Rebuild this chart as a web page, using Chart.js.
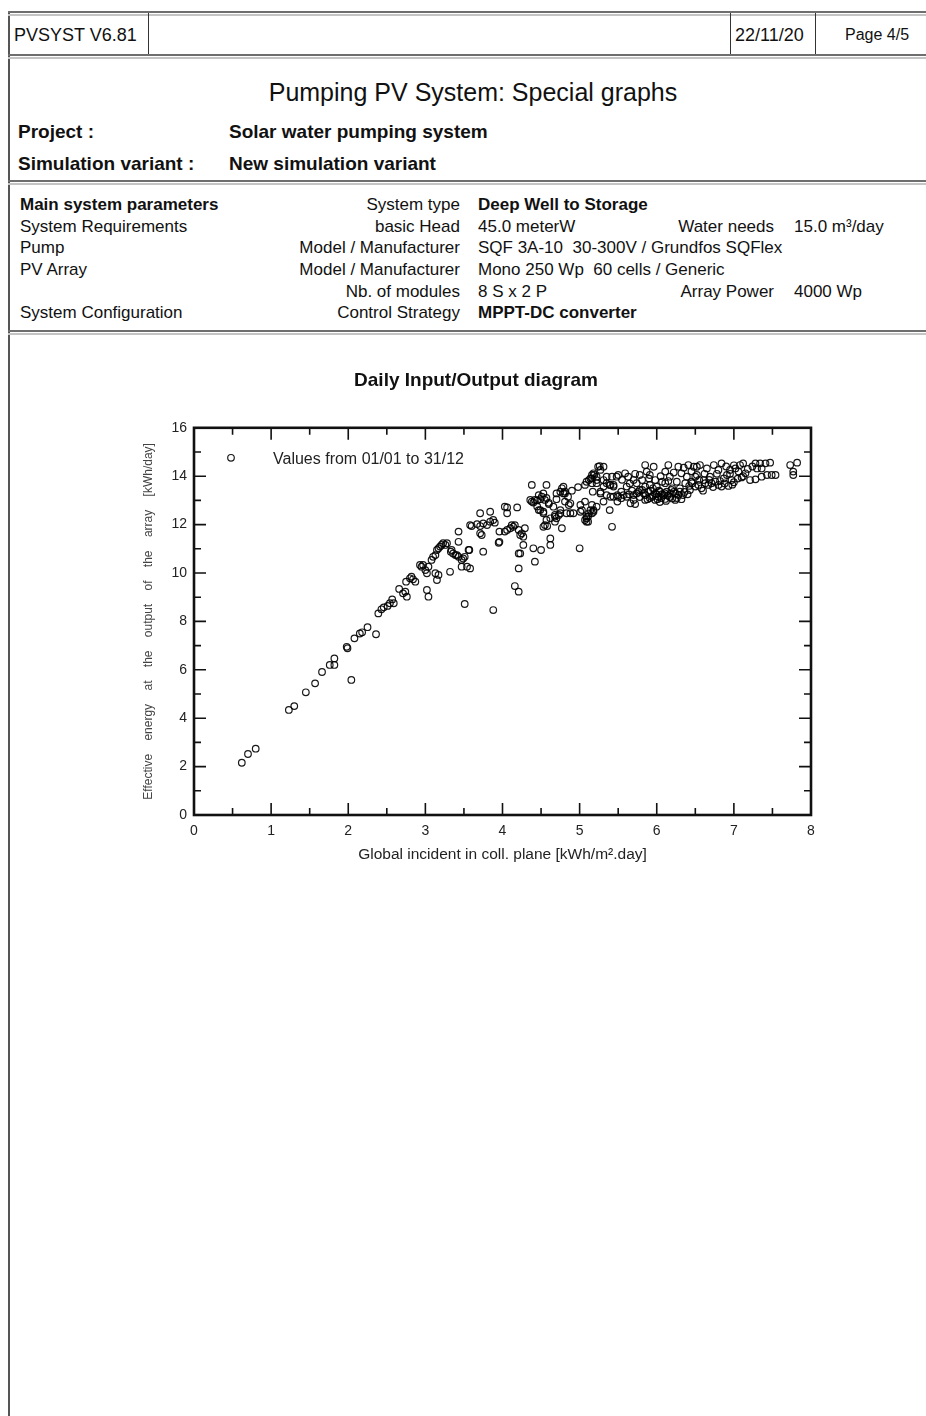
<!DOCTYPE html>
<html>
<head>
<meta charset="utf-8">
<title>Pumping PV System: Special graphs</title>
<script src="https://cdn.jsdelivr.net/npm/chart.js@4.4.1/dist/chart.umd.min.js"></script>
<style>
    html, body { margin: 0; padding: 0; background: #fff; }
    body { width: 926px; height: 1416px; position: relative; overflow: hidden; font-family: "Liberation Sans", Arial, sans-serif; color: #111; }
    .frame { position: absolute; left: 8px; top: 12px; width: 940px; height: 1420px; border-left: 2px solid #555; }
    .hline { position: absolute; left: 8px; width: 940px; height: 1px; border-top: 2px solid #6e6e6e; border-bottom: 2px solid #c4c4c4; }
    .vline { position: absolute; top: 13px; height: 42px; width: 0; border-left: 1px solid #333; }
    .t { position: absolute; white-space: pre; line-height: 1; }
    .b { font-weight: bold; }
    .hd { font-size: 18px; }
    .p { font-size: 17px; }
    .pj { font-size: 19px; }
    .r { text-align: right; }
    #chartBox { position: absolute; left: 100px; top: 355px; width: 752px; height: 525px; }
</style>
</head>
<body>
<div class="frame"></div>

<!-- header row -->
<div class="hline" style="top:11px"></div>
<div class="vline" style="left:148px"></div>
<div class="vline" style="left:730px"></div>
<div class="vline" style="left:815px"></div>
<div class="t hd" style="left:14px; top:26px">PVSYST V6.81</div>
<div class="t hd" style="left:735px; top:26px">22/11/20</div>
<div class="t" style="left:845px; top:27px; font-size:16px">Page 4/5</div>
<div class="hline" style="top:54px"></div>

<!-- title block -->
<div class="t" style="left:0; width:946px; text-align:center; top:80px; font-size:25px">Pumping PV System: Special graphs</div>
<div class="t b pj" style="left:18px; top:122px">Project :</div>
<div class="t b pj" style="left:229px; top:122px">Solar water pumping system</div>
<div class="t b pj" style="left:18px; top:154px">Simulation variant :</div>
<div class="t b pj" style="left:229px; top:154px">New simulation variant</div>
<div class="hline" style="top:180px"></div>

<!-- main system parameters -->
<div class="t p b" style="left:20px; top:196px">Main system parameters</div>
<div class="t p r" style="right:466px; top:196px">System type</div>
<div class="t p b" style="left:478px; top:196px">Deep Well to Storage</div>

<div class="t p" style="left:20px; top:218px">System Requirements</div>
<div class="t p r" style="right:466px; top:218px">basic Head</div>
<div class="t p" style="left:478px; top:218px">45.0 meterW</div>
<div class="t p r" style="right:152px; top:218px">Water needs</div>
<div class="t p" style="left:794px; top:218px">15.0 m³/day</div>

<div class="t p" style="left:20px; top:239px">Pump</div>
<div class="t p r" style="right:466px; top:239px">Model / Manufacturer</div>
<div class="t p" style="left:478px; top:239px">SQF 3A-10  30-300V / Grundfos SQFlex</div>

<div class="t p" style="left:20px; top:261px">PV Array</div>
<div class="t p r" style="right:466px; top:261px">Model / Manufacturer</div>
<div class="t p" style="left:478px; top:261px">Mono 250 Wp  60 cells / Generic</div>

<div class="t p r" style="right:466px; top:283px">Nb. of modules</div>
<div class="t p" style="left:478px; top:283px">8 S x 2 P</div>
<div class="t p r" style="right:152px; top:283px">Array Power</div>
<div class="t p" style="left:794px; top:283px">4000 Wp</div>

<div class="t p" style="left:20px; top:304px">System Configuration</div>
<div class="t p r" style="right:466px; top:304px">Control Strategy</div>
<div class="t p b" style="left:478px; top:304px">MPPT-DC converter</div>
<div class="hline" style="top:330px"></div>

<div id="chartBox"><canvas id="io-diagram"></canvas></div>

<script>
(function () {
    "use strict";

    // Daily values: global incident (kWh/m2.day) / array output (kWh/day)
    var globalInc = [
        0.62, 0.70, 0.80, 1.23, 1.30, 1.45, 1.57, 1.66, 1.76, 1.82, 1.82, 1.98, 1.99, 2.04, 2.08, 2.15, 2.18, 2.25, 2.36, 2.39,
        2.43, 2.46, 2.51, 2.54, 2.57, 2.59, 2.66, 2.76, 2.75, 2.80, 2.84, 2.87, 2.93, 2.71, 2.74, 2.82, 2.95, 3.00, 3.02, 3.04,
        3.08, 3.10, 3.13, 3.15, 3.17, 3.19, 3.21, 3.23, 3.13, 3.15, 3.17, 3.02, 3.04, 3.32, 3.34, 3.36, 3.41, 3.43, 3.47, 3.49,
        3.51, 3.47, 3.58, 3.56, 3.43, 3.43, 3.71, 3.75, 3.96, 3.96, 3.88, 3.51, 2.97, 3.26, 3.28, 3.33, 3.39, 3.54, 3.57, 3.58,
        3.60, 3.67, 3.71, 3.75, 3.80, 3.84, 3.88, 3.90, 3.71, 3.84, 3.73, 3.95, 4.03, 4.06, 4.10, 4.14, 4.16, 4.19, 4.21, 4.25,
        4.27, 4.29, 4.27, 4.21, 4.40, 4.42, 4.50, 4.53, 4.58, 4.62, 4.62, 4.62, 4.68, 4.70, 4.73, 4.75, 4.77, 4.81, 4.83, 4.88,
        4.38, 4.57, 4.36, 4.38, 4.42, 4.47, 4.51, 4.53, 4.55, 4.47, 4.53, 4.66, 4.75, 4.77, 4.81, 4.79, 5.00, 5.07, 5.09, 5.12,
        5.14, 5.16, 5.07, 5.12, 5.16, 5.19, 5.22, 5.24, 5.17, 5.27, 5.31, 5.39, 5.42, 5.39, 5.48, 5.50, 4.16, 4.21, 4.21, 4.23,
        4.40, 4.45, 4.49, 4.57, 4.60, 4.70, 4.81, 4.79, 5.07, 5.09, 5.14, 5.16, 5.18, 5.22, 5.27, 5.09, 5.11, 5.16, 5.18, 5.22,
        5.01, 5.03, 4.86, 4.92, 4.88, 4.68, 4.75, 4.49, 4.53, 4.55, 4.57, 4.68, 4.03, 4.06, 4.12, 4.23, 4.06, 5.26, 5.22, 5.16,
        5.31, 5.35, 5.40, 5.44, 5.27, 5.35, 5.44, 5.49, 5.57, 5.66, 5.18, 5.11, 5.09, 5.01, 5.50, 5.59, 5.63, 5.70, 5.74, 5.78,
        5.81, 5.85, 5.87, 5.91, 5.96, 5.98, 6.00, 6.04, 6.07, 6.11, 6.15, 6.17, 6.20, 6.24, 6.28, 6.32, 6.37, 6.41, 6.43, 6.50,
        6.52, 5.81, 5.85, 5.89, 5.94, 5.98, 6.02, 6.09, 6.13, 5.74, 5.70, 5.91, 6.11, 6.26, 6.30, 6.34, 6.39, 6.46, 5.31, 5.54,
        5.61, 6.48, 6.52, 6.56, 6.61, 6.65, 6.69, 6.74, 6.76, 6.80, 6.84, 6.87, 6.91, 6.95, 6.97, 7.02, 7.06, 7.08, 7.12, 7.15,
        7.28, 7.34, 7.41, 7.47, 7.30, 7.36, 7.21, 7.28, 7.36, 7.43, 7.49, 7.54, 7.73, 7.77, 7.82, 6.45, 6.50, 6.54, 6.58, 6.63,
        6.67, 6.71, 6.80, 6.84, 5.91, 5.98, 6.04, 6.11, 6.17, 6.24, 6.07, 6.19, 6.28, 5.85, 5.78, 5.72, 5.42, 5.35, 5.44, 5.31,
        5.40, 5.49, 5.54, 5.61, 5.70, 5.78, 5.85, 6.60, 6.73, 6.88, 6.93, 7.00, 7.05, 7.10, 6.95, 7.18, 7.24, 6.62, 6.78, 6.90,
        7.00, 7.77, 5.55, 5.65, 5.72, 5.90, 5.95, 6.05, 6.15, 6.22, 6.35, 6.45, 5.95, 6.00, 6.03, 6.06, 6.10, 6.14, 6.18, 6.22,
        6.26, 6.32, 6.36, 6.40, 5.92, 5.88, 5.83, 5.76, 5.68, 5.64, 6.01, 6.12, 6.20, 6.30, 6.42, 6.55, 6.68, 6.82, 6.98, 7.12,
        4.45, 4.60, 4.70, 4.85, 4.90, 4.98
    ];
    var effEnergy = [
        2.16, 2.52, 2.74, 4.34, 4.50, 5.07, 5.44, 5.91, 6.20, 6.20, 6.47, 6.95, 6.89, 5.58, 7.30, 7.50, 7.55, 7.76, 7.47, 8.33,
        8.50, 8.58, 8.64, 8.75, 8.91, 8.75, 9.34, 9.02, 9.64, 9.78, 9.74, 9.64, 10.33, 9.16, 9.23, 9.85, 10.26, 10.12, 9.99, 10.26,
        10.54, 10.67, 10.74, 10.95, 11.02, 11.09, 11.16, 11.23, 9.99, 9.71, 9.92, 9.30, 9.02, 10.05, 10.95, 10.81, 10.74, 10.67, 10.54, 10.60,
        10.67, 10.26, 10.19, 10.95, 11.29, 11.71, 11.64, 10.88, 11.29, 11.71, 8.47, 8.72, 10.33, 11.16, 11.23, 10.88, 10.74, 10.26, 10.95, 11.98,
        11.94, 12.02, 11.94, 12.05, 11.98, 12.12, 12.19, 12.08, 12.47, 12.53, 11.57, 11.25, 11.71, 12.71, 11.85, 11.91, 11.98, 12.71, 11.78, 11.64,
        11.50, 11.85, 11.16, 10.81, 11.02, 10.47, 10.95, 11.91, 11.94, 12.26, 11.43, 11.16, 12.40, 12.26, 12.40, 12.60, 11.85, 12.95, 12.47, 12.47,
        13.64, 13.64, 13.02, 12.95, 13.02, 13.22, 13.15, 13.29, 13.02, 12.60, 12.53, 12.74, 13.36, 13.50, 13.36, 13.29, 11.02, 12.19, 12.33, 12.46,
        12.60, 12.81, 12.95, 13.84, 13.91, 14.05, 13.71, 14.39, 13.36, 13.36, 13.57, 13.64, 11.91, 12.60, 13.98, 13.15, 9.46, 9.23, 10.19, 10.81,
        12.91, 13.00, 13.05, 13.10, 12.90, 13.29, 13.29, 13.57, 13.64, 13.77, 13.91, 14.05, 14.12, 13.84, 14.26, 12.26, 12.12, 12.47, 12.60, 12.74,
        12.81, 12.60, 12.81, 12.47, 12.88, 12.33, 12.47, 12.60, 12.47, 11.98, 12.19, 12.12, 12.74, 12.47, 11.98, 11.57, 11.78, 14.42, 13.98, 13.71,
        13.84, 13.98, 13.64, 13.57, 13.29, 13.22, 13.15, 12.95, 13.22, 12.88, 12.53, 12.33, 12.12, 12.53, 14.05, 14.12, 13.98, 13.84, 13.71, 14.05,
        13.84, 14.46, 14.19, 14.05, 14.39, 13.84, 13.57, 13.36, 13.77, 14.19, 14.46, 13.98, 13.50, 13.29, 14.39, 14.12, 13.71, 14.46, 13.43, 13.98,
        14.39, 13.43, 13.22, 13.36, 13.15, 13.29, 13.15, 13.22, 13.36, 13.29, 13.02, 13.64, 13.71, 13.77, 13.36, 13.22, 13.98, 13.71, 14.39, 13.36,
        13.57, 14.39, 14.05, 14.46, 13.84, 14.32, 13.98, 14.46, 13.77, 14.26, 14.53, 13.91, 14.05, 14.26, 13.84, 14.32, 14.19, 14.46, 14.53, 14.12,
        14.53, 14.53, 14.53, 14.56, 14.32, 14.32, 13.84, 13.87, 13.98, 14.05, 14.05, 14.05, 14.46, 14.19, 14.56, 13.77, 13.57, 13.64, 13.50, 13.71,
        13.64, 13.71, 13.64, 13.57, 13.10, 13.02, 12.93, 13.06, 13.14, 13.02, 13.26, 13.43, 13.22, 13.02, 13.14, 12.85, 13.98, 13.71, 13.64, 12.95,
        13.15, 13.22, 13.09, 13.15, 13.22, 13.43, 13.57, 13.40, 13.55, 13.70, 13.60, 13.75, 13.90, 13.95, 14.10, 14.30, 14.40, 14.10, 14.10, 14.40,
        14.45, 14.05, 13.85, 13.70, 14.10, 13.90, 13.50, 14.00, 13.80, 14.15, 14.35, 14.20, 13.20, 13.25, 13.40, 13.10, 13.30, 13.20, 13.28, 13.35,
        13.10, 13.05, 13.35, 13.25, 13.40, 13.05, 13.30, 13.35, 13.40, 13.25, 13.05, 12.98, 13.08, 13.50, 13.60, 13.85, 13.85, 13.80, 13.65, 14.00,
        12.75, 12.85, 13.05, 13.15, 13.40, 13.55
    ];
    var seriesLabel = "Values from 01/01 to 31/12";

    // axis ticks (labelled) and the small ones in between
    var xTicks = [0, 1, 2, 3, 4, 5, 6, 7, 8];
    var xMinor = [0.5, 1.5, 2.5, 3.5, 4.5, 5.5, 6.5, 7.5];
    var yTicks = [0, 2, 4, 6, 8, 10, 12, 14, 16];
    var yMinor = [1, 3, 5, 7, 9, 11, 13, 15];

    var points = globalInc.map(function (x, i) {
        return {x: x, y: effEnergy[i]};
    });

    Chart.defaults.font.family = '"Liberation Sans", Arial, sans-serif';
    Chart.defaults.color = "#222";

    // PVsyst style frame with ticks pointing inwards on all 4 sides
    var frameTicks = {
        id: "frameTicks",
        afterDatasetsDraw: function (chart) {
            var ctx = chart.ctx, a = chart.chartArea;
            var sx = chart.scales.x, sy = chart.scales.y;
            ctx.save();
            ctx.strokeStyle = "#111";
            ctx.lineWidth = 1.6;
            ctx.beginPath();
            function xt(v, len) {
                var px = sx.getPixelForValue(v);
                ctx.moveTo(px, a.bottom); ctx.lineTo(px, a.bottom - len);
                ctx.moveTo(px, a.top); ctx.lineTo(px, a.top + len);
            }
            function yt(v, len) {
                var py = sy.getPixelForValue(v);
                ctx.moveTo(a.left, py); ctx.lineTo(a.left + len, py);
                ctx.moveTo(a.right, py); ctx.lineTo(a.right - len, py);
            }
            xTicks.slice(1, -1).forEach(function (v) { xt(v, 12); });
            xMinor.forEach(function (v) { xt(v, 7); });
            yTicks.slice(1, -1).forEach(function (v) { yt(v, 12); });
            yMinor.forEach(function (v) { yt(v, 7); });
            ctx.stroke();
            ctx.lineWidth = 2.6;
            ctx.strokeRect(a.left, a.top, a.right - a.left, a.bottom - a.top);
            ctx.restore();
        }
    };

    // legend sits inside the plot, top left
    var innerLegend = {
        id: "innerLegend",
        afterDraw: function (chart) {
            var ctx = chart.ctx, a = chart.chartArea;
            var ds = chart.data.datasets[0];
            ctx.save();
            ctx.strokeStyle = ds.borderColor;
            ctx.lineWidth = 1.2;
            ctx.beginPath();
            ctx.arc(a.left + 37, a.top + 30, 3.3, 0, Math.PI * 2);
            ctx.stroke();
            ctx.fillStyle = "#222";
            ctx.font = '16px "Liberation Sans", Arial, sans-serif';
            ctx.textBaseline = "middle";
            ctx.fillText(ds.label, a.left + 79, a.top + 32);
            ctx.restore();
        }
    };

    // Daily Input/Output diagram - Chart
    var ctx1 = document.getElementById("io-diagram").getContext("2d");
    var myChart1 = new Chart(ctx1, {
        type: "scatter",
        data: {
            datasets: [{
                label: seriesLabel,
                data: points,
                pointRadius: 3.3,
                pointBorderWidth: 1.2,
                borderColor: "rgba(0, 0, 0, 0.9)",
                backgroundColor: "rgba(0, 0, 0, 0)"
            }]
        },
        options: {
            responsive: true,
            maintainAspectRatio: false,
            animation: false,
            layout: {padding: {left: 41, right: 41, top: 0, bottom: 0}},
            plugins: {
                legend: {display: false},
                tooltip: {enabled: false},
                title: {
                    display: true,
                    text: "Daily Input/Output diagram",
                    color: "#111",
                    font: {size: 19, weight: "bold"},
                    padding: {top: 14, bottom: 36}
                }
            },
            scales: {
                x: {
                    type: "linear",
                    min: 0,
                    max: 8,
                    afterBuildTicks: function (s) { s.ticks = xTicks.map(function (v) { return {value: v}; }); },
                    afterFit: function (s) { s.height = 65; },
                    grid: {display: false, drawTicks: false},
                    border: {display: false},
                    ticks: {padding: 8, font: {size: 14}, maxRotation: 0},
                    title: {
                        display: true,
                        text: "Global incident in coll. plane [kWh/m².day]",
                        font: {size: 15.5},
                        padding: {top: 4, bottom: 16}
                    }
                },
                y: {
                    type: "linear",
                    min: 0,
                    max: 16,
                    afterBuildTicks: function (s) { s.ticks = yTicks.map(function (v) { return {value: v}; }); },
                    afterFit: function (s) { s.width = 53; },
                    grid: {display: false, drawTicks: false},
                    border: {display: false},
                    ticks: {padding: 7, font: {size: 14}},
                    title: {
                        display: true,
                        text: "Effective    energy    at    the    output    of    the    array    [kWh/day]",
                        color: "#444",
                        font: {size: 12},
                        padding: {top: 0, bottom: 0}
                    }
                }
            }
        },
        plugins: [frameTicks, innerLegend]
    });

})();
</script>
</body>
</html>
